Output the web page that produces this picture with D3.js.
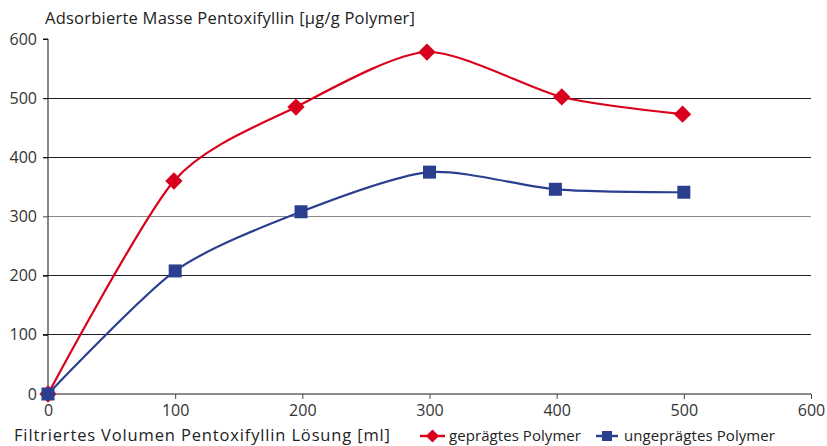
<!DOCTYPE html>
<html>
<head>
<meta charset="utf-8">
<script src="https://cdn.jsdelivr.net/npm/d3@7"></script>
<style>
  html, body { margin: 0; padding: 0; background: #fff; }
  svg text { font-family: "Open Sans", "Noto Sans", sans-serif; }
</style>
</head>
<body>
<svg id="chart" width="827" height="446"></svg>
<script>
// Adsorbed mass of pentoxifylline vs. filtered volume
const volGepraegt = [0, 99, 195, 298, 404, 499];
const masseGepraegt = [0, 360, 485, 578, 502, 473];
const volUngepraegt = [0, 100, 199, 300, 399, 500];
const masseUngepraegt = [0, 208, 308, 375, 346, 341];

const xTicks = [0, 100, 200, 300, 400, 500, 600];
const yTicks = [0, 100, 200, 300, 400, 500, 600];
const seriesNames = ["geprägtes Polymer", "ungeprägtes Polymer"];

const RED = "#d8001c";
const BLUE = "#2b3f8f";

const svg = d3.select("#chart");
const m = { left: 48, right: 16, top: 39, bottom: 52 };
const W = 827, H = 446;

const x = d3.scaleLinear().domain([0, 600]).range([m.left, W - m.right]);
const y = d3.scaleLinear().domain([0, 600]).range([H - m.bottom, m.top]);

// horizontal grid lines (300 drawn lighter)
const gridG = svg.append("g");
gridG.selectAll("line").data(yTicks.filter(d => d > 0 && d < 600)).join("line")
  .attr("x1", x(0) - 5).attr("x2", x(600))
  .attr("y1", d => y(d)).attr("y2", d => y(d))
  .attr("stroke", d => d === 300 ? "#8a8a8a" : "#222")
  .attr("stroke-width", 1)
  .attr("shape-rendering", "crispEdges");

// y axis
const yAxis = svg.append("g").attr("transform", `translate(${x(0)},0)`)
  .call(d3.axisLeft(y).tickValues(yTicks).tickSize(5).tickPadding(6));
yAxis.select(".domain").attr("stroke", "#111").attr("d", `M-5,${y(600)}H0V${y(0)}`);
yAxis.selectAll(".tick line").attr("stroke", d => (d === 0 || d === 300) ? "#777" : "#111");
yAxis.selectAll(".tick text").attr("font-size", 16).attr("fill", "#333");

// x axis
const xAxis = svg.append("g").attr("transform", `translate(0,${y(0)})`)
  .call(d3.axisBottom(x).tickValues(xTicks).tickSize(5).tickPadding(6));
xAxis.select(".domain").attr("stroke", "#666").attr("stroke-width", 1.5).attr("d", `M${x(0)},0H${x(600)}`);
xAxis.selectAll(".tick line").attr("stroke", "#444");
xAxis.selectAll(".tick text").attr("font-size", 16).attr("fill", "#333");

// titles, fitted to their measured widths
function fitText(sel, width) {
  const w = sel.node().getComputedTextLength();
  if (w > 0) sel.attr("textLength", width).attr("lengthAdjust", "spacing");
  return sel;
}
fitText(svg.append("text").attr("x", 45).attr("y", 24)
  .attr("font-size", 16.5).attr("fill", "#222")
  .text("Adsorbierte Masse Pentoxifyllin [µg/g Polymer]"), 370);
fitText(svg.append("text").attr("x", 14).attr("y", 441)
  .attr("font-size", 16.5).attr("fill", "#222")
  .text("Filtriertes Volumen Pentoxifyllin Lösung [ml]"), 376);

const line = d3.line().x(d => x(d[0])).y(d => y(d[1])).curve(d3.curveCardinal.tension(0.25));

const redPts = volGepraegt.map((v, i) => [v, masseGepraegt[i]]);
const bluePts = volUngepraegt.map((v, i) => [v, masseUngepraegt[i]]);

svg.append("path").attr("d", line(redPts)).attr("fill", "none")
  .attr("stroke", RED).attr("stroke-width", 2.2);
svg.append("path").attr("d", line(bluePts)).attr("fill", "none")
  .attr("stroke", BLUE).attr("stroke-width", 2.2);

const diamond = d3.symbol().type(d3.symbolDiamond2).size(190);
svg.append("g").selectAll("path").data(redPts).join("path")
  .attr("d", diamond)
  .attr("transform", d => `translate(${x(d[0])},${y(d[1])})`)
  .attr("fill", RED);

const sq = 13;
svg.append("g").selectAll("rect").data(bluePts).join("rect")
  .attr("x", d => x(d[0]) - sq / 2).attr("y", d => y(d[1]) - sq / 2)
  .attr("width", sq).attr("height", sq)
  .attr("fill", BLUE);

// legend
const leg = svg.append("g");
const ly = 436;
leg.append("line").attr("x1", 420).attr("x2", 445).attr("y1", ly).attr("y2", ly)
  .attr("stroke", RED).attr("stroke-width", 2.5);
leg.append("path").attr("d", d3.symbol().type(d3.symbolDiamond2).size(110))
  .attr("transform", `translate(432.5,${ly})`).attr("fill", RED);
fitText(leg.append("text").attr("x", 449).attr("y", ly + 5).attr("font-size", 15).attr("fill", "#222")
  .text(seriesNames[0]), 132);
leg.append("line").attr("x1", 596).attr("x2", 618).attr("y1", ly).attr("y2", ly)
  .attr("stroke", BLUE).attr("stroke-width", 2.5);
leg.append("rect").attr("x", 602).attr("y", ly - 5).attr("width", 10).attr("height", 10)
  .attr("fill", BLUE);
fitText(leg.append("text").attr("x", 624).attr("y", ly + 5).attr("font-size", 15).attr("fill", "#222")
  .text(seriesNames[1]), 151);
</script>
</body>
</html>
